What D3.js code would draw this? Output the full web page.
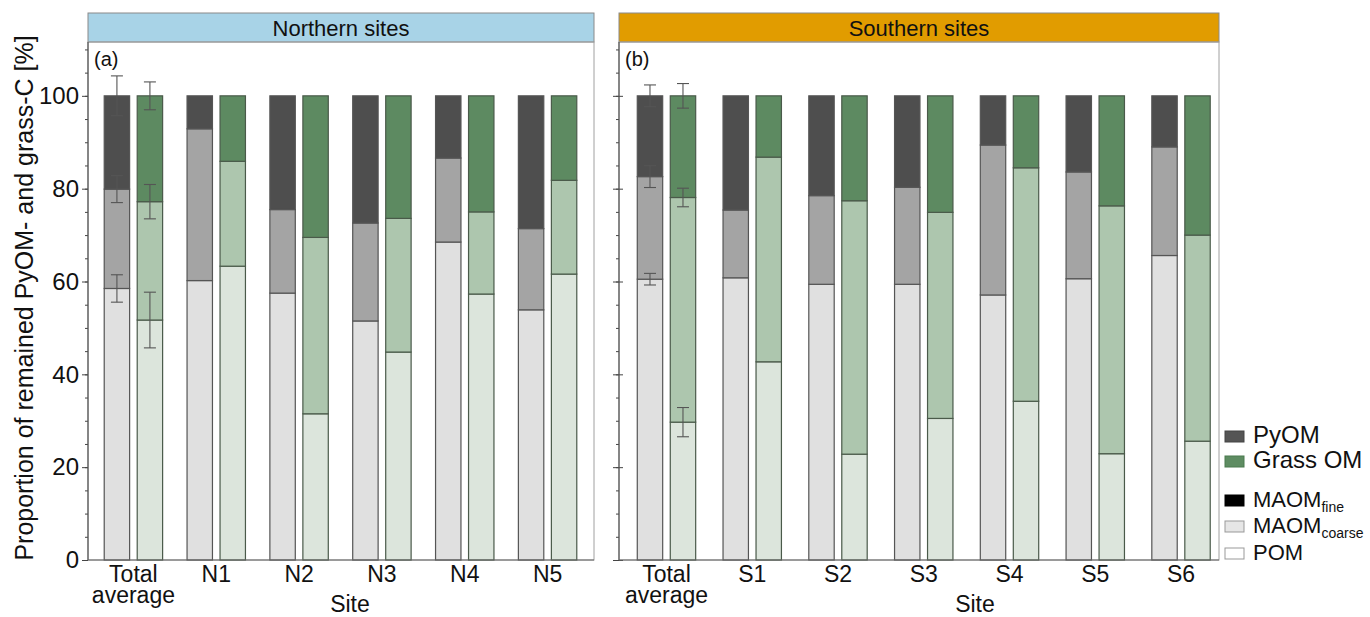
<!DOCTYPE html>
<html><head><meta charset="utf-8">
<script src="https://cdn.jsdelivr.net/npm/d3@7"></script>
<style>
html,body{margin:0;padding:0;background:#fff;}
svg{display:block;font-family:"Liberation Sans",Arial,sans-serif;}
</style></head>
<body><svg id="chart" width="1370" height="617"></svg>
<script>
// ---------- data ----------
const sitesNorth = ["Total average","N1","N2","N3","N4","N5"];
const sitesSouth = ["Total average","S1","S2","S3","S4","S5","S6"];
const seriesNames = ["PyOM","Grass OM"];
const fractionNames = ["POM","MAOM","Top"];

// segment sizes [bottom, middle, top] in %
const northPyOM = [[58.5,21.4,20.1],[60.2,32.7,7.1],[57.5,18.0,24.5],[51.5,21.1,27.4],[68.5,18.1,13.4],[53.9,17.5,28.6]];
const northGrass = [[51.7,25.5,22.8],[63.3,22.6,14.1],[31.5,38.0,30.5],[44.8,28.8,26.4],[57.3,17.7,25.0],[61.6,20.2,18.2]];
const southPyOM = [[60.5,22.1,17.4],[60.8,14.6,24.6],[59.4,19.1,21.5],[59.4,20.9,19.7],[57.1,32.3,10.6],[60.6,23.0,16.4],[65.6,23.4,11.0]];
const southGrass = [[29.7,48.4,21.9],[42.7,44.1,13.2],[22.8,54.6,22.6],[30.5,44.4,25.1],[34.2,50.3,15.5],[22.9,53.4,23.7],[25.6,44.4,30.0]];

// error (SE) on the "Total average" bars, at the top of each segment
const northErrPyOM = [2.95,2.9,4.3];
const northErrGrass = [6.0,3.7,3.0];
const southErrPyOM = [1.25,2.35,2.35];
const southErrGrass = [3.15,2.0,2.65];

const yMajorTicks = [0,20,40,60,80,100];
const yMinorTicks = d3.range(0,111,5);

const legendItems = [
  {label:"PyOM", sub:"", fill:"#555555", stroke:"#444"},
  {label:"Grass OM", sub:"", fill:"#5e8c62", stroke:"#4a7a4e"},
  {label:"MAOM", sub:"fine", fill:"#000000", stroke:"#000"},
  {label:"MAOM", sub:"coarse", fill:"#e6e6e6", stroke:"#999"},
  {label:"POM", sub:"", fill:"#ffffff", stroke:"#999"}
];

// ---------- styles ----------
const colors = {
  "PyOM": ["#e0e0e0","#a4a4a4","#4e4e4e"],
  "Grass OM": ["#dce5dc","#adc6ae","#5d8a61"]
};

const svg = d3.select("#chart");
const yTop = 42, yBot = 560;
const y = d3.scaleLinear().domain([0,111.6]).range([yBot,yTop]);

function panel(opts){
  const {x0,x1,bandRange,sites,pyom,grass,errP,errG,title,headerFill,tag,labels,siteX} = opts;
  const g = svg.append("g");
  // header
  g.append("rect").attr("x",x0).attr("y",13).attr("width",x1-x0).attr("height",yTop-13)
    .attr("fill",headerFill).attr("stroke","#8a8a8a").attr("stroke-width",1);
  g.append("text").attr("x",(x0+x1)/2).attr("y",36).attr("text-anchor","middle")
    .attr("font-size",22).attr("fill","#111").text(title);
  // frame
  g.append("rect").attr("x",x0).attr("y",yTop).attr("width",x1-x0).attr("height",yBot-yTop)
    .attr("fill","none").attr("stroke","#a0a0a0").attr("stroke-width",1);

  const xg = d3.scaleBand().domain(sites).range(bandRange).paddingInner(0).paddingOuter(0);
  const xs = d3.scaleBand().domain(seriesNames).range([-29.2,29.2]).paddingInner(0.23);

  const stack = d3.stack().keys([0,1,2]);
  const dataSets = [{name:"PyOM",vals:pyom,err:errP},{name:"Grass OM",vals:grass,err:errG}];
  dataSets.forEach(ds=>{
    const stacked = stack(ds.vals);
    stacked.forEach((layer,li)=>{
      g.selectAll(null).data(layer).enter().append("rect")
        .attr("x",(d,i)=>xg(sites[i])+xg.bandwidth()/2+xs(ds.name))
        .attr("width",xs.bandwidth())
        .attr("y",d=>y(d[1]))
        .attr("height",d=>y(d[0])-y(d[1]))
        .attr("fill",colors[ds.name][li])
        .attr("stroke",ds.name==="PyOM"?"#555":"#4a5a4a")
        .attr("stroke-width",1.2);
    });
    // error bars on the total-average bar
    const cx = xg(sites[0])+xg.bandwidth()/2+xs(ds.name)+xs.bandwidth()/2;
    let cum = 0;
    ds.vals[0].forEach((v,k)=>{
      cum += v;
      const e = ds.err[k];
      const eg = g.append("g").attr("stroke","#555").attr("stroke-width",1.1);
      eg.append("line").attr("x1",cx).attr("x2",cx).attr("y1",y(cum-e)).attr("y2",y(cum+e));
      eg.append("line").attr("x1",cx-6).attr("x2",cx+6).attr("y1",y(cum-e)).attr("y2",y(cum-e));
      eg.append("line").attr("x1",cx-6).attr("x2",cx+6).attr("y1",y(cum+e)).attr("y2",y(cum+e));
    });
  });

  // y axis
  const minor = g.append("g").attr("transform",`translate(${x0},0)`)
    .call(d3.axisLeft(y).tickValues(yMinorTicks).tickSize(3).tickFormat(""));
  minor.select(".domain").remove();
  minor.selectAll("line").attr("stroke","#444");
  const major = g.append("g").attr("transform",`translate(${x0},0)`)
    .call(d3.axisLeft(y).tickValues(yMajorTicks).tickSize(6).tickPadding(3)
      .tickFormat(labels?d3.format("d"):""));
  major.select(".domain").remove();
  major.selectAll("line").attr("stroke","#444");
  if(!labels) major.selectAll("line").attr("x1",4);
  major.selectAll("text").attr("font-size",24).attr("fill","#111")
    .attr("font-family","'Liberation Sans',Arial,sans-serif");
  g.append("line").attr("x1",x0).attr("x2",x0).attr("y1",yTop).attr("y2",yBot).attr("stroke","#555").attr("stroke-width",1.2);
  g.append("line").attr("x1",x0).attr("x2",x1).attr("y1",yBot).attr("y2",yBot).attr("stroke","#666").attr("stroke-width",1.2);

  // x labels
  sites.forEach(s=>{
    const cx = xg(s)+xg.bandwidth()/2;
    const t = g.append("text").attr("text-anchor","middle").attr("font-size",23).attr("fill","#111");
    if(s==="Total average"){
      t.append("tspan").attr("x",cx).attr("y",582).text("Total");
      t.append("tspan").attr("x",cx).attr("y",603).text("average");
    } else {
      t.attr("x",cx).attr("y",582).text(s);
    }
  });
  g.append("text").attr("x",siteX).attr("y",612).attr("text-anchor","middle")
    .attr("font-size",23).attr("fill","#111").text("Site");
  g.append("text").attr("x",x0+6).attr("y",66).attr("font-size",20).attr("fill","#111").text(tag);
}

panel({x0:88,x1:594,bandRange:[92,589],sites:sitesNorth,pyom:northPyOM,grass:northGrass,
  errP:northErrPyOM,errG:northErrGrass,title:"Northern sites",headerFill:"#a8d3e7",tag:"(a)",labels:true,siteX:350});
panel({x0:619,x1:1219,bandRange:[623.6,1223.9],sites:sitesSouth,pyom:southPyOM,grass:southGrass,
  errP:southErrPyOM,errG:southErrGrass,title:"Southern sites",headerFill:"#e19c00",tag:"(b)",labels:false,siteX:975});

// y title
svg.append("text").attr("transform","translate(33,298) rotate(-90)").attr("text-anchor","middle")
  .attr("font-size",25).attr("fill","#111").text("Proportion of remained PyOM- and grass-C [%]");

// legend
const legY = [443,468,507,533,560];
legendItems.forEach((it,i)=>{
  const by = legY[i];
  svg.append("rect").attr("x",1225).attr("y",by-12).attr("width",19).attr("height",11)
    .attr("fill",it.fill).attr("stroke",it.stroke).attr("stroke-width",1);
  const t = svg.append("text").attr("x",1253).attr("y",by).attr("font-size",i<2?24:22).attr("fill","#111");
  t.append("tspan").text(it.label);
  if(it.sub) t.append("tspan").attr("font-size",14).attr("dy",5).text(it.sub);
});
</script></body></html>
